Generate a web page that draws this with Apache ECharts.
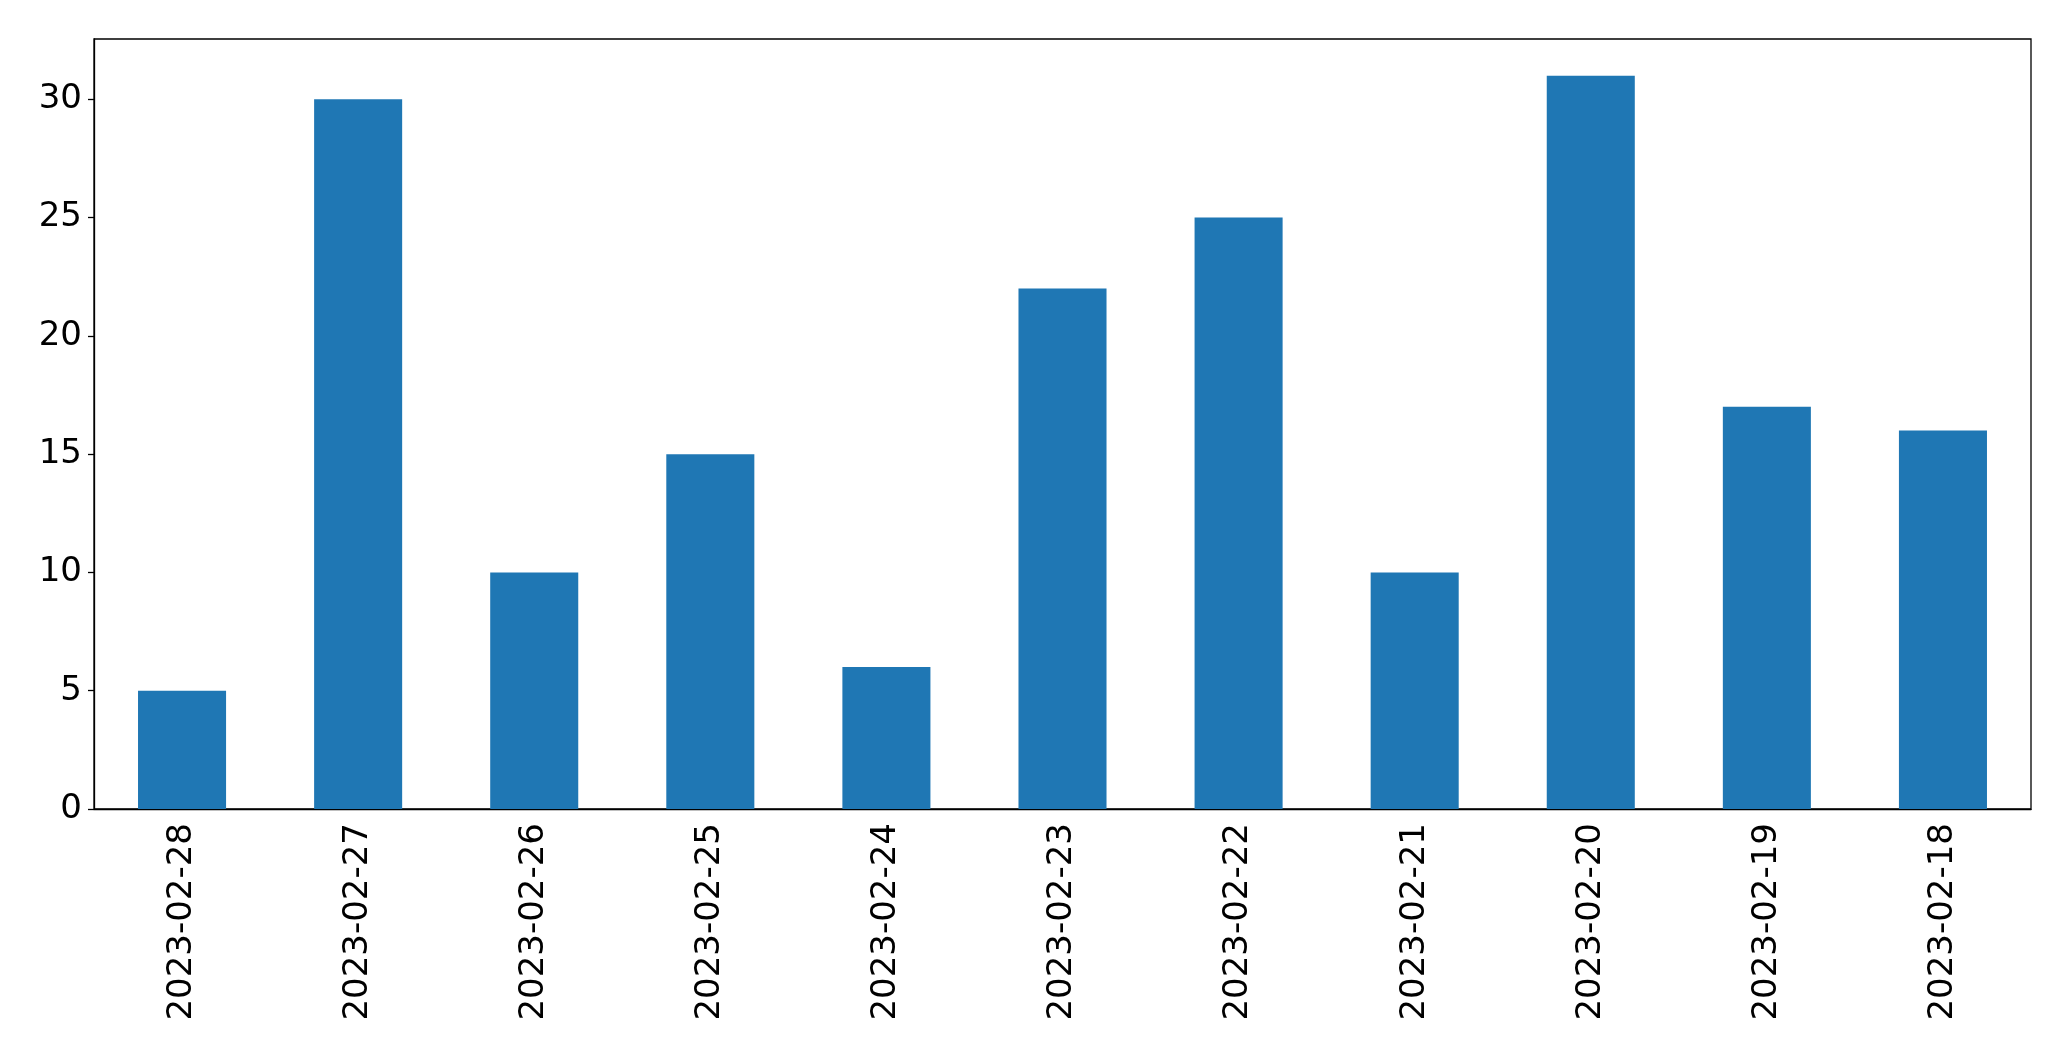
<!DOCTYPE html>
<html>
<head>
<meta charset="utf-8">
<script src="https://cdn.jsdelivr.net/npm/echarts@6/dist/echarts.min.js"></script>
<style>
html,body{margin:0;padding:0;background:#fff;}
#chart{width:2071px;height:1061px;}
</style>
</head>
<body>
<div id="chart"></div>
<script>
const categories = ["2023-02-28","2023-02-27","2023-02-26","2023-02-25","2023-02-24","2023-02-23","2023-02-22","2023-02-21","2023-02-20","2023-02-19","2023-02-18"];
const values = [5, 30, 10, 15, 6, 22, 25, 10, 31, 17, 16];
const yTicks = [0, 5, 10, 15, 20, 25, 30];

const chart = echarts.init(document.getElementById('chart'), null, {renderer: 'canvas'});
const font = 'DejaVu Sans';
chart.setOption({
  animation: false,
  grid: {left: 94, top: 39, width: 1937, height: 770, show: true, borderColor: '#000', borderWidth: 1.3, containLabel: false},
  xAxis: {
    type: 'category',
    data: categories,
    boundaryGap: true,
    axisLine: {lineStyle: {color: '#000', width: 1.3}},
    axisTick: {alignWithLabel: true, length: 6, lineStyle: {color: '#000', width: 1.3}},
    axisLabel: {rotate: 90, color: '#000', fontFamily: font, fontSize: 34, margin: 14}
  },
  yAxis: {
    type: 'value',
    min: 0,
    max: 32.55,
    interval: 5,
    splitLine: {show: false},
    axisLine: {show: true, lineStyle: {color: '#000', width: 1.3}},
    axisTick: {show: true, length: 6, customValues: yTicks, lineStyle: {color: '#000', width: 1.3}},
    axisLabel: {color: '#000', fontFamily: font, fontSize: 34, margin: 12, customValues: yTicks}
  },
  series: [{
    type: 'bar',
    data: values,
    barWidth: '50%',
    itemStyle: {color: '#1f77b4'}
  }]
});
</script>
</body>
</html>
